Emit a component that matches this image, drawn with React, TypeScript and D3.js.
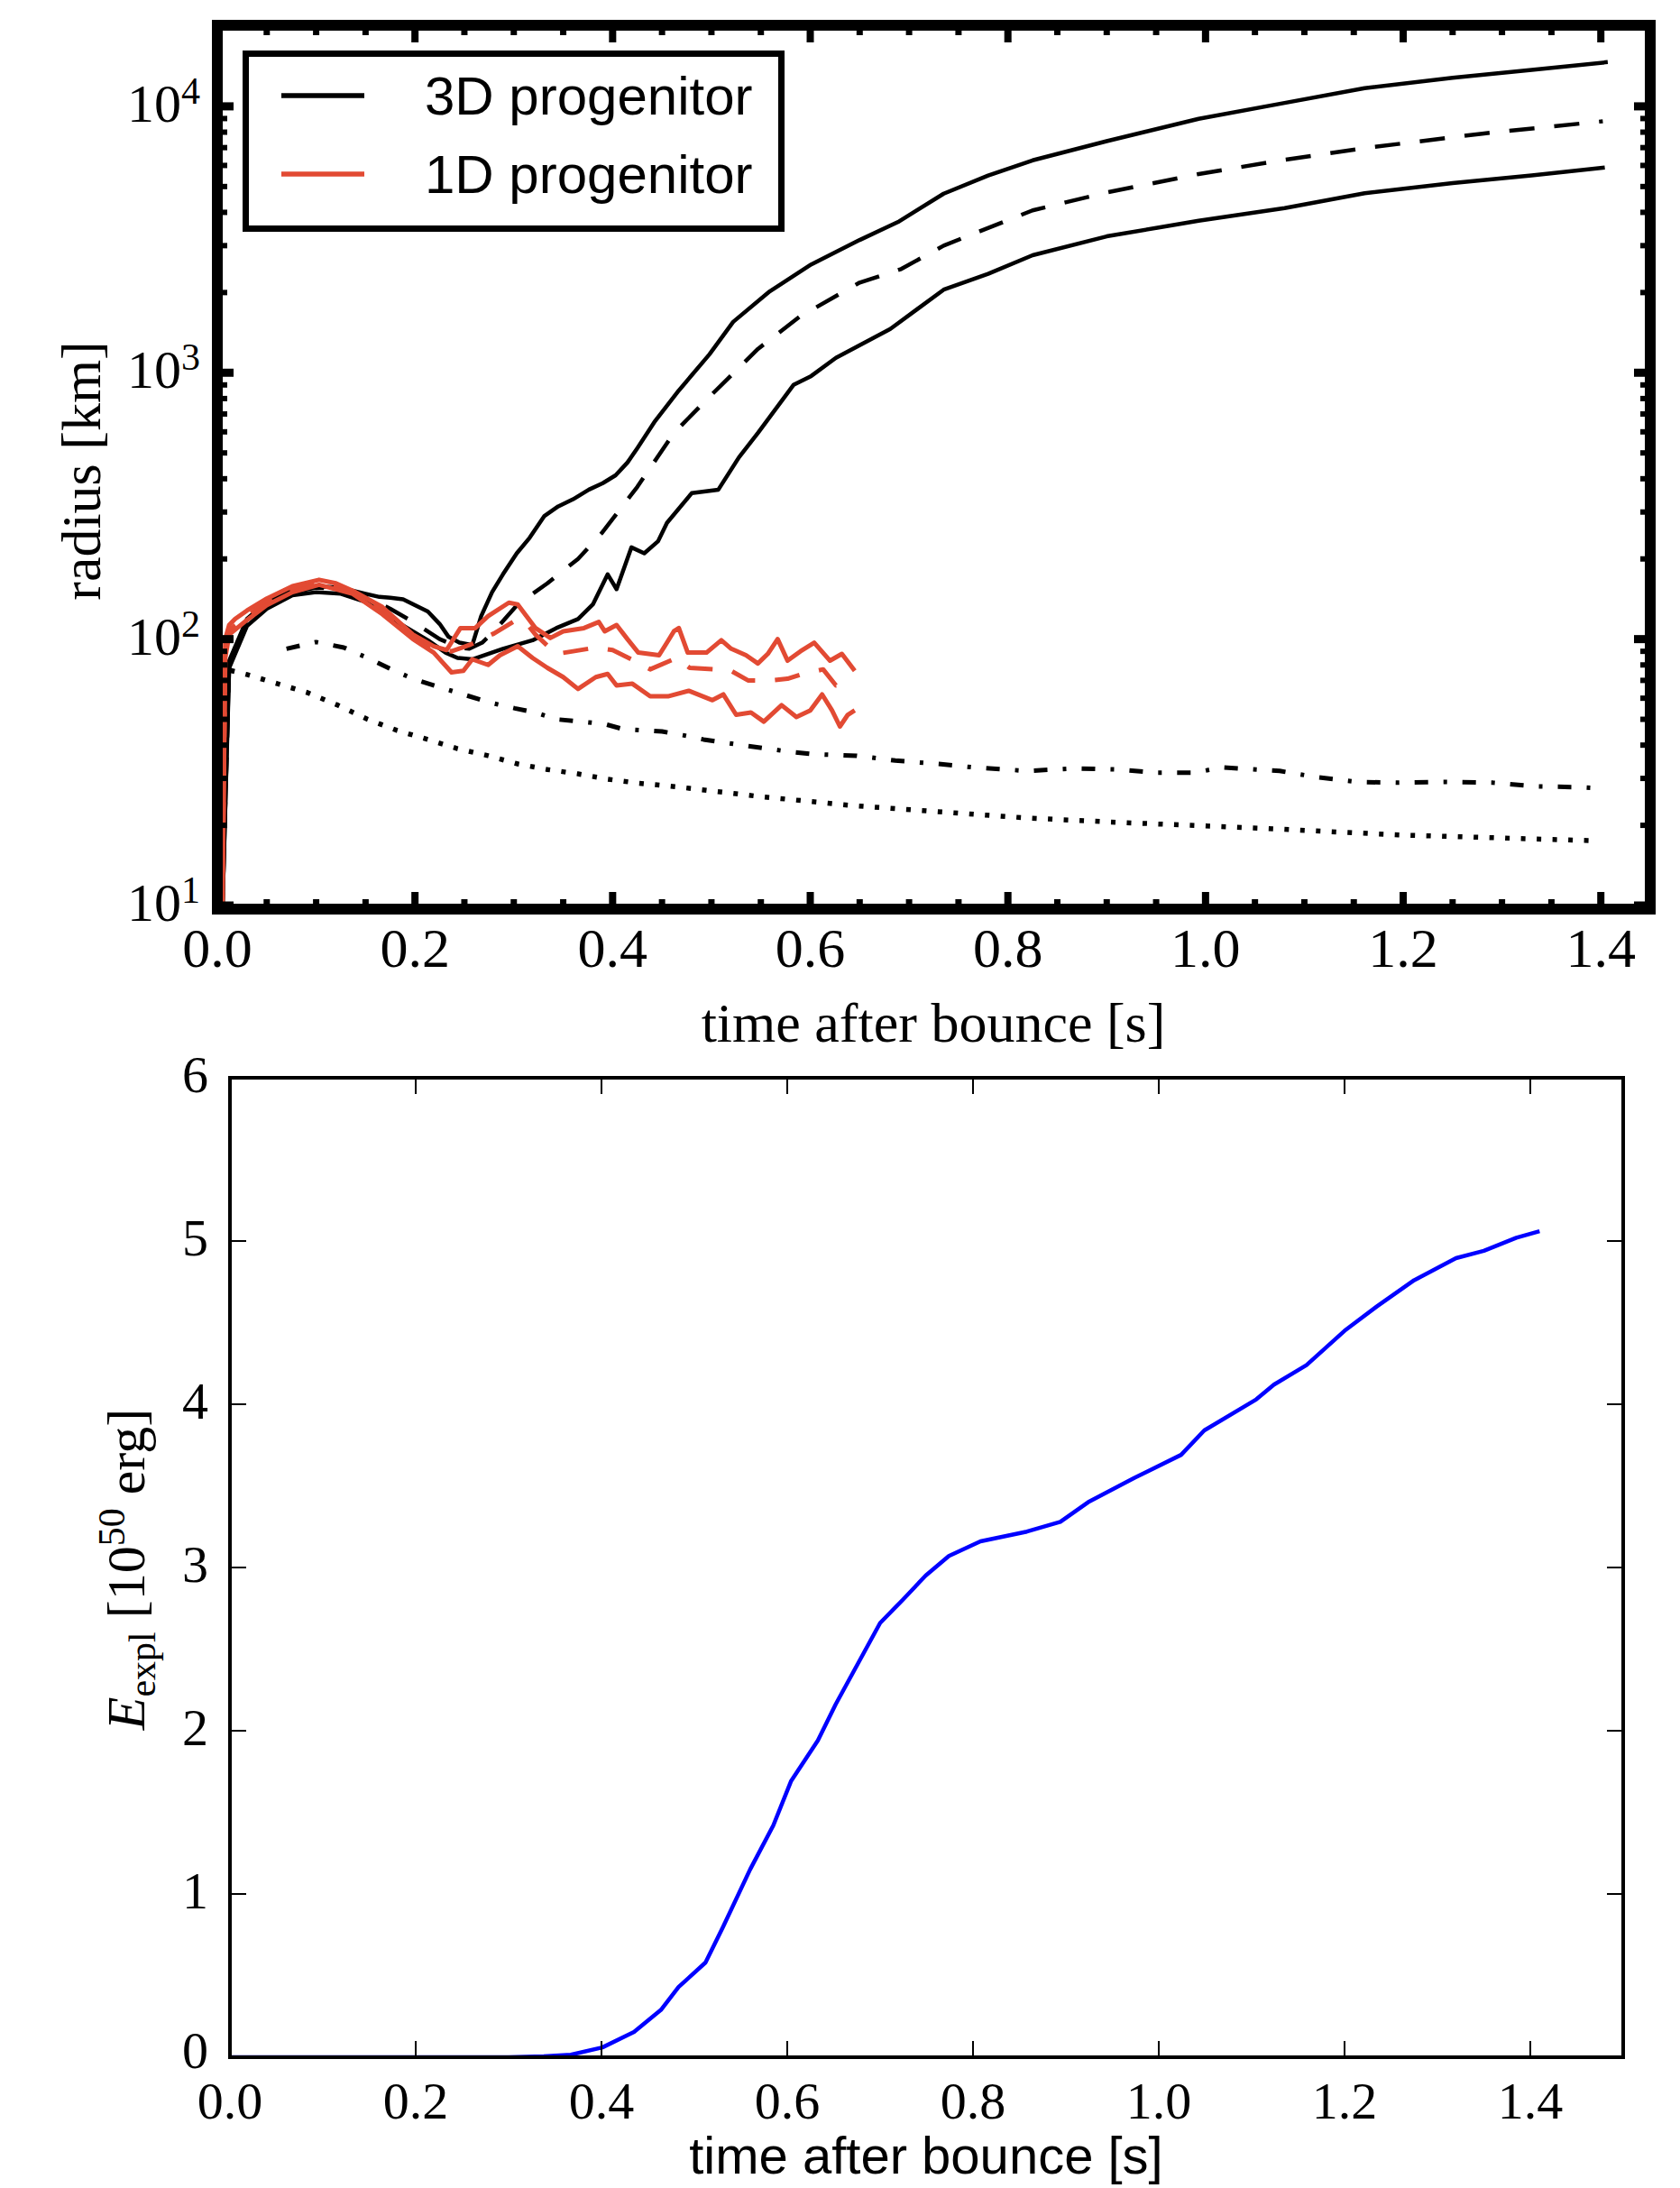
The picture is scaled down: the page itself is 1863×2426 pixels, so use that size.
import React from "react";
import * as d3 from "d3";

// ---- top panel: shock / gain / NS radii (log scale) ----
const tMax3d = [0.005, 0.012, 0.03, 0.05, 0.076, 0.1, 0.125, 0.15, 0.164, 0.175, 0.188, 0.2, 0.213, 0.225, 0.234, 0.245, 0.258, 0.267, 0.278, 0.289, 0.303, 0.316, 0.331, 0.345, 0.36, 0.376, 0.39, 0.403, 0.415, 0.425, 0.443, 0.467, 0.498, 0.522, 0.559, 0.601, 0.65, 0.69, 0.735, 0.78, 0.825, 0.9, 0.993, 1.08, 1.161, 1.25, 1.33, 1.407];
const rMax3d = [9, 83, 119, 138, 152, 158, 156, 148, 144, 143, 141, 134, 127, 114, 102, 97, 95, 122, 150, 175, 210, 240, 290, 315, 335, 364, 385, 412, 460, 521, 659, 858, 1172, 1552, 2020, 2550, 3150, 3700, 4700, 5500, 6270, 7400, 8980, 10300, 11700, 12800, 13700, 14660];

const tMean3d = [0.005, 0.012, 0.03, 0.05, 0.076, 0.1, 0.125, 0.15, 0.175, 0.2, 0.225, 0.245, 0.255, 0.268, 0.28, 0.304, 0.334, 0.365, 0.389, 0.425, 0.462, 0.498, 0.547, 0.589, 0.65, 0.692, 0.735, 0.825, 0.9, 0.993, 1.08, 1.161, 1.28, 1.402];
const rMean3d = [9, 80, 115, 135, 150, 156, 154, 145, 130, 115, 100, 93, 92, 97, 107, 135, 162, 200, 250, 373, 594, 812, 1228, 1620, 2180, 2450, 3000, 4070, 4750, 5570, 6300, 6970, 7900, 8790];

const tMin3d = [0.005, 0.012, 0.03, 0.05, 0.076, 0.1, 0.125, 0.15, 0.182, 0.213, 0.231, 0.243, 0.258, 0.289, 0.319, 0.343, 0.365, 0.38, 0.395, 0.404, 0.419, 0.432, 0.446, 0.455, 0.48, 0.507, 0.528, 0.547, 0.583, 0.601, 0.626, 0.681, 0.735, 0.78, 0.825, 0.9, 0.993, 1.08, 1.161, 1.25, 1.33, 1.404];
const rMin3d = [9, 78, 112, 130, 146, 150, 148, 138, 116, 99, 89, 85, 84, 92, 99, 110, 119, 135, 175, 154, 221, 210, 233, 273, 353, 364, 482, 594, 900, 972, 1137, 1460, 2050, 2350, 2760, 3250, 3720, 4150, 4720, 5150, 5500, 5890];

const tGain3d = [0.07, 0.1, 0.128, 0.152, 0.176, 0.198, 0.225, 0.249, 0.274, 0.301, 0.322, 0.343, 0.368, 0.392, 0.41, 0.45, 0.471, 0.492, 0.531, 0.574, 0.602, 0.647, 0.686, 0.73, 0.765, 0.82, 0.866, 0.911, 0.95, 0.989, 1.016, 1.075, 1.113, 1.154, 1.195, 1.243, 1.291, 1.335, 1.38, 1.403];
const rGain3d = [92, 97.5, 93, 85, 77, 71, 66, 62, 58, 55, 53, 50, 49, 48, 46, 45, 43.6, 42, 40, 38, 37, 36.5, 35, 34, 33, 32, 32.7, 32.4, 31.5, 31.5, 33, 32, 30.3, 29.1, 28.9, 29.1, 28.9, 28, 27.8, 27.5];

const tNs3d = [0.003, 0.009, 0.03, 0.061, 0.091, 0.122, 0.152, 0.182, 0.213, 0.243, 0.274, 0.304, 0.334, 0.365, 0.395, 0.426, 0.465, 0.547, 0.638, 0.729, 0.82, 0.914, 1.057, 1.195, 1.397];
const rNs3d = [9, 77, 73.6, 68, 63, 56.5, 50, 45.4, 42, 38.8, 36.5, 34, 32.4, 31.2, 29.8, 28.8, 27.9, 25.7, 23.8, 22.5, 21.3, 20.5, 19.5, 18.4, 17.5];

const tMax1d = [0.005, 0.008, 0.012, 0.018, 0.03, 0.05, 0.076, 0.103, 0.12, 0.137, 0.167, 0.198, 0.219, 0.232, 0.246, 0.261, 0.274, 0.295, 0.304, 0.322, 0.337, 0.35, 0.371, 0.386, 0.392, 0.404, 0.415, 0.426, 0.447, 0.455, 0.462, 0.467, 0.476, 0.495, 0.51, 0.52, 0.535, 0.547, 0.557, 0.567, 0.577, 0.59, 0.604, 0.62, 0.632, 0.645];
const rMax1d = [9, 100, 113, 119, 128, 142, 158, 167, 162, 152, 132, 104, 94, 91, 110, 110, 122, 137, 135, 110, 101, 107, 110, 116, 107, 113, 100, 89, 87, 97, 107, 110, 89, 89, 99, 92, 87, 81, 88, 100, 83, 90, 97, 83, 88, 76];

const tMean1d = [0.005, 0.008, 0.012, 0.03, 0.05, 0.076, 0.103, 0.137, 0.167, 0.198, 0.219, 0.237, 0.255, 0.28, 0.304, 0.315, 0.322, 0.343, 0.36, 0.383, 0.4, 0.422, 0.438, 0.465, 0.478, 0.504, 0.52, 0.537, 0.56, 0.577, 0.592, 0.613, 0.626, 0.644];
const rMean1d = [9, 90, 108, 122, 138, 154, 163, 150, 128, 102, 92, 90, 95, 105, 119, 112, 104, 88, 90, 93, 91, 83, 77, 85, 78, 77, 76, 70, 70, 71, 74, 77, 67, 69];

const tMin1d = [0.005, 0.008, 0.012, 0.03, 0.05, 0.076, 0.103, 0.137, 0.167, 0.198, 0.219, 0.237, 0.249, 0.258, 0.274, 0.286, 0.304, 0.319, 0.334, 0.35, 0.365, 0.383, 0.395, 0.404, 0.42, 0.438, 0.456, 0.477, 0.501, 0.512, 0.525, 0.54, 0.553, 0.571, 0.586, 0.6, 0.612, 0.622, 0.63, 0.638, 0.645];
const rMin1d = [9, 85, 104, 118, 134, 150, 160, 148, 124, 100, 89, 75, 76, 84, 80, 87, 94, 85, 78, 72, 65, 72, 74, 67, 68, 61, 61, 64, 59, 62, 52, 53, 49, 56.5, 51, 54, 62, 54, 47, 52, 54];

const xTicksTop = [0, 0.2, 0.4, 0.6, 0.8, 1.0, 1.2, 1.4];
const xTickLabels = ["0.0", "0.2", "0.4", "0.6", "0.8", "1.0", "1.2", "1.4"];
const yDecades = [10, 100, 1000, 10000];
const yDecadeExp = ["1", "2", "3", "4"];
const legendLabels = ["3D progenitor", "1D progenitor"];

// ---- bottom panel: explosion energy ----
const tEexp = [0, 0.1, 0.2, 0.3, 0.338, 0.367, 0.401, 0.435, 0.464, 0.483, 0.512, 0.531, 0.56, 0.585, 0.604, 0.633, 0.652, 0.676, 0.7, 0.724, 0.749, 0.774, 0.808, 0.858, 0.894, 0.924, 0.974, 1.024, 1.049, 1.105, 1.124, 1.159, 1.2, 1.235, 1.275, 1.32, 1.35, 1.385, 1.41];
const eExp = [0, 0, 0, 0, 0.005, 0.015, 0.06, 0.155, 0.29, 0.43, 0.58, 0.8, 1.15, 1.42, 1.69, 1.94, 2.16, 2.41, 2.66, 2.8, 2.95, 3.07, 3.16, 3.22, 3.28, 3.4, 3.55, 3.69, 3.84, 4.03, 4.12, 4.24, 4.45, 4.6, 4.76, 4.895, 4.94, 5.02, 5.06];
const yTicksBot = [0, 1, 2, 3, 4, 5, 6];

const RED = "#e24a33";
const SERIF = "'Liberation Serif', 'Times New Roman', serif";
const SANS = "'Liberation Sans', Arial, sans-serif";

const zip = (ts: number[], vs: number[]) => ts.map((t, i) => [t, vs[i]] as [number, number]);

const App = () => {
  // top panel
  const xT = d3.scaleLinear().domain([0, 1.45]).range([241, 1830]);
  const yT = d3.scaleLog().domain([10, 20000]).range([1004, 29]);
  const lineT = d3.line<[number, number]>().x((d) => xT(d[0])).y((d) => yT(d[1]));
  const iL = 247, iR = 1824, iT = 34, iB = 1002;

  const minorX = d3.range(0, 1.451, 0.05).filter((v) => Math.abs(v / 0.2 - Math.round(v / 0.2)) > 1e-6);
  const logTicks = yT.ticks().filter((v) => v >= 10 && v <= 20000);
  const isDecade = (v: number) => Math.abs(Math.log10(v) - Math.round(Math.log10(v))) < 1e-6;

  const topSeries = [
    { d: zip(tMax3d, rMax3d), c: "#000", w: 4.5, dash: undefined },
    { d: zip(tMean3d, rMean3d), c: "#000", w: 4.5, dash: "28,22" },
    { d: zip(tMin3d, rMin3d), c: "#000", w: 4.5, dash: undefined },
    { d: zip(tGain3d, rGain3d), c: "#000", w: 5, dash: "15,17,4,17" },
    { d: zip(tNs3d, rNs3d), c: "#000", w: 5.5, dash: "5,12.5" },
    { d: zip(tMax1d, rMax1d), c: RED, w: 5, dash: undefined },
    { d: zip(tMean1d, rMean1d), c: RED, w: 5, dash: "28,22" },
    { d: zip(tMin1d, rMin1d), c: RED, w: 5, dash: undefined },
  ];

  // bottom panel
  const xB = d3.scaleLinear().domain([0, 1.5]).range([255, 1800]);
  const yB = d3.scaleLinear().domain([0, 6]).range([2281, 1195]);
  const lineB = d3.line<[number, number]>().x((d) => xB(d[0])).y((d) => yB(d[1]));

  return (
    <svg width={1863} height={2426} style={{ position: "absolute", left: 0, top: 0, background: "#fff" }}>
      <defs>
        <clipPath id="clipTop">
          <rect x={iL - 2} y={iT} width={iR - iL + 2} height={iB - iT} />
        </clipPath>
        <clipPath id="clipBot">
          <rect x={255} y={1195} width={1545} height={1086} />
        </clipPath>
      </defs>
      <rect x={0} y={0} width={1863} height={2426} fill="#fff" />

      {/* ===== top panel ===== */}
      <g clipPath="url(#clipTop)">
        {topSeries.map((s, i) => (
          <path key={i} d={lineT(s.d) || ""} fill="none" stroke={s.c} strokeWidth={s.w}
            strokeDasharray={s.dash} strokeLinejoin="round" />
        ))}
      </g>

      {/* x ticks bottom & top */}
      {xTicksTop.map((v) => (
        <g key={"mx" + v}>
          <line x1={xT(v)} x2={xT(v)} y1={iB} y2={iB - 13} stroke="#000" strokeWidth={8} />
          <line x1={xT(v)} x2={xT(v)} y1={iT} y2={iT + 13} stroke="#000" strokeWidth={8} />
        </g>
      ))}
      {minorX.map((v) => (
        <g key={"nx" + v}>
          <line x1={xT(v)} x2={xT(v)} y1={iB} y2={iB - 5} stroke="#000" strokeWidth={7} />
          <line x1={xT(v)} x2={xT(v)} y1={iT} y2={iT + 5} stroke="#000" strokeWidth={7} />
        </g>
      ))}
      {/* y ticks left & right */}
      {logTicks.map((v) => {
        const major = isDecade(v);
        const len = major ? 12 : 5;
        return (
          <g key={"ly" + v}>
            <line x1={iL} x2={iL + len} y1={yT(v)} y2={yT(v)} stroke="#000" strokeWidth={major ? 9 : 6} />
            <line x1={iR} x2={iR - len} y1={yT(v)} y2={yT(v)} stroke="#000" strokeWidth={major ? 9 : 6} />
          </g>
        );
      })}

      <rect x={241} y={28} width={1589} height={980} fill="none" stroke="#000" strokeWidth={12} />

      {/* tick labels */}
      {xTicksTop.map((v, i) => (
        <text key={"xl" + v} x={xT(v)} y={1072} textAnchor="middle" fontFamily={SERIF} fontSize={62}>
          {xTickLabels[i]}
        </text>
      ))}
      {yDecades.map((v, i) => (
        <text key={"yl" + v} x={222} y={yT(v) + 17} textAnchor="end" fontFamily={SERIF} fontSize={60}>
          10<tspan dy={-20} fontSize={42}>{yDecadeExp[i]}</tspan>
        </text>
      ))}
      <text x={1035} y={1155} textAnchor="middle" fontFamily={SERIF} fontSize={62}>
        time after bounce [s]
      </text>
      <text transform="translate(111,522) rotate(-90)" textAnchor="middle" fontFamily={SERIF} fontSize={62}>
        radius [km]
      </text>

      {/* legend */}
      <rect x={272.5} y={59.5} width={594} height={194} fill="#fff" stroke="#000" strokeWidth={7} />
      {legendLabels.map((lab, i) => {
        const y = 106 + i * 87;
        return (
          <g key={lab}>
            <line x1={312} x2={404} y1={y} y2={y} stroke={i === 0 ? "#000" : RED} strokeWidth={5.5} />
            <text x={471} y={y + 21} fontFamily={SANS} fontSize={60}>{lab}</text>
          </g>
        );
      })}

      {/* ===== bottom panel ===== */}
      <g clipPath="url(#clipBot)">
        <path d={lineB(zip(tEexp, eExp)) || ""} fill="none" stroke="#0000ff" strokeWidth={4.5} strokeLinejoin="round" />
      </g>
      {xTicksTop.slice(1).map((v) => (
        <g key={"bx" + v}>
          <line x1={xB(v)} x2={xB(v)} y1={2281} y2={2263} stroke="#000" strokeWidth={2} />
          <line x1={xB(v)} x2={xB(v)} y1={1195} y2={1213} stroke="#000" strokeWidth={2} />
        </g>
      ))}
      {yTicksBot.slice(1, -1).map((v) => (
        <g key={"by" + v}>
          <line x1={255} x2={273} y1={yB(v)} y2={yB(v)} stroke="#000" strokeWidth={2} />
          <line x1={1800} x2={1782} y1={yB(v)} y2={yB(v)} stroke="#000" strokeWidth={2} />
        </g>
      ))}
      <rect x={255} y={1195} width={1545} height={1086} fill="none" stroke="#000" strokeWidth={4} />

      {xTicksTop.map((v, i) => (
        <text key={"bxl" + v} x={xB(v)} y={2349} textAnchor="middle" fontFamily={SERIF} fontSize={58}>
          {xTickLabels[i]}
        </text>
      ))}
      {yTicksBot.map((v) => (
        <text key={"byl" + v} x={231} y={yB(v) + (v === 0 ? 12 : 16)} textAnchor="end" fontFamily={SERIF} fontSize={58}>
          {v}
        </text>
      ))}
      <text transform="translate(160,1740) rotate(-90)" textAnchor="middle" fontFamily={SERIF} fontSize={60}>
        <tspan fontStyle="italic">E</tspan>
        <tspan dy={12} fontSize={42}>expl</tspan>
        <tspan dy={-12}> [10</tspan>
        <tspan dy={-22} fontSize={42}>50</tspan>
        <tspan dy={22}> erg]</tspan>
      </text>
      <text x={1027} y={2410} textAnchor="middle" fontFamily={SANS} fontSize={58}>
        time after bounce [s]
      </text>
    </svg>
  );
};

export default App;
